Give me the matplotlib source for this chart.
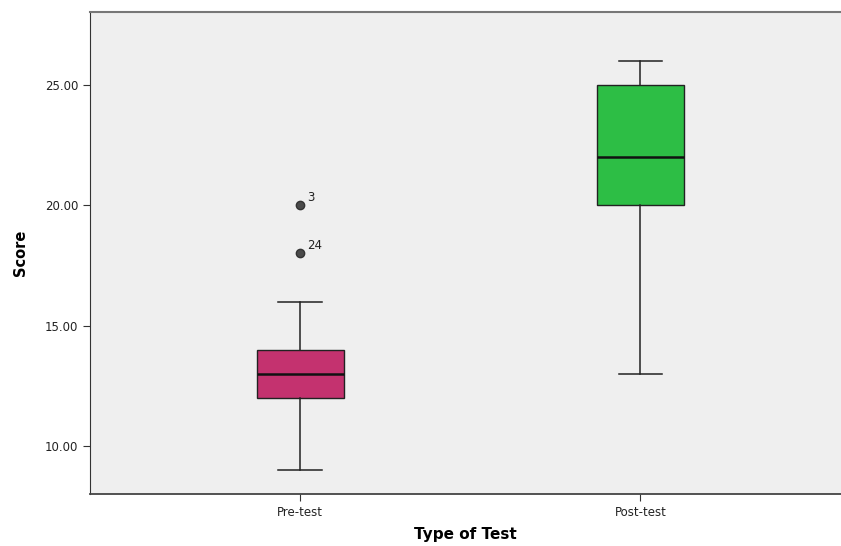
import matplotlib
matplotlib.use("Agg")
import matplotlib.pyplot as plt

plt.rcParams['font.family'] = ['DejaVu Sans']

# box plot summary values
categories = ['Pre-test', 'Post-test']
whisker_low = [9, 13]
q1 = [12, 20]
median = [13, 22]
q3 = [14, 25]
whisker_high = [16, 26]
outliers = [[18, 20], []]
outlier_ids = [['24', '3'], []]
colors = ['#c4326f', '#2dbe45']

stats = []
for i, name in enumerate(categories):
    stats.append({
        'label': name, 'whislo': whisker_low[i], 'q1': q1[i], 'med': median[i],
        'q3': q3[i], 'whishi': whisker_high[i], 'fliers': outliers[i],
    })

fig = plt.figure(figsize=(8.41, 5.46), dpi=100)
ax = fig.add_axes([0.107, 0.095, 0.893, 0.883])
ax.set_facecolor('#efefef')

positions = [1, 2]
bp = ax.bxp(stats, positions=positions, widths=0.255, patch_artist=True,
            showfliers=True,
            boxprops=dict(edgecolor='#222222', linewidth=1.0),
            medianprops=dict(color='#111111', linewidth=1.8),
            whiskerprops=dict(color='#222222', linewidth=1.1),
            capprops=dict(color='#222222', linewidth=1.1),
            capwidths=0.128,
            flierprops=dict(marker='o', markersize=6, markerfacecolor='#4a4a4a',
                            markeredgecolor='#333333'))
for patch, c in zip(bp['boxes'], colors):
    patch.set_facecolor(c)

for i, pos in enumerate(positions):
    for val, lab in zip(outliers[i], outlier_ids[i]):
        ax.annotate(lab, (pos, val), xytext=(5, 3), textcoords='offset points',
                    fontsize=8.5, color='#222222')

ax.set_xlim(0.382, 2.59)
ax.set_ylim(8.0, 28.03)
ax.set_yticks([10, 15, 20, 25])
ax.set_yticklabels(['10.00', '15.00', '20.00', '25.00'])
ax.set_xticks(positions)
ax.set_xticklabels(categories)
ax.tick_params(axis='both', labelsize=8.5, length=5, color='#333333', labelcolor='#222222')

ax.spines['right'].set_visible(False)
ax.spines['top'].set_color('#777777')
ax.spines['top'].set_linewidth(1.5)
ax.spines['left'].set_color('#333333')
ax.spines['bottom'].set_color('#444444')
ax.spines['bottom'].set_linewidth(1.3)

ax.set_xlabel('Type of Test', fontsize=11, fontweight='bold', labelpad=6)
ax.set_ylabel('Score', fontsize=10.5, fontweight='bold', labelpad=12)

fig.savefig('out.png', dpi=100)
